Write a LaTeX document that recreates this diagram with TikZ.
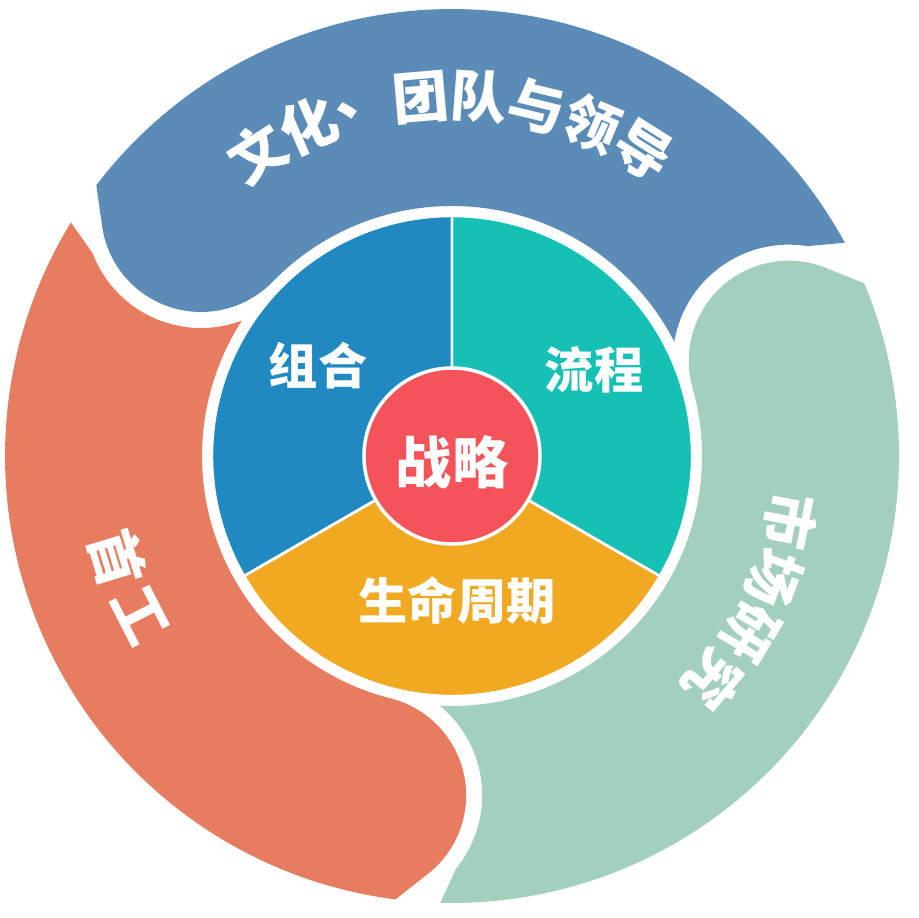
\documentclass[tikz,border=0pt]{standalone}
\usepackage{fontspec}
\usepackage{tikz}
\newfontfamily\cjk{Noto Sans CJK SC}
\definecolor{cazulext}{HTML}{5B8CB8}
\definecolor{cverdeext}{HTML}{A2D0BD}
\definecolor{cnaranjaext}{HTML}{E87C60}
\definecolor{cazul}{HTML}{2089C1}
\definecolor{cturquesa}{HTML}{17C0B5}
\definecolor{camarillo}{HTML}{F2A922}
\definecolor{crojo}{HTML}{F5535A}
\tikzset{
  sector/.style={draw=white, line width=0.7pt},
  nucleo/.style={circle, draw=white, line width=1pt, fill=crojo,
    minimum size=1.76cm, inner sep=0pt},
  etqpie/.style={font=\cjk\bfseries\fontsize{14}{14}\selectfont, text=white, inner sep=0pt},
  etqcentro/.style={font=\cjk\bfseries\fontsize{16}{16}\selectfont, text=white, inner sep=0pt},
  etqarco/.style={font=\cjk\bfseries\fontsize{16}{16}\selectfont, text=white, inner sep=0pt},
}
% outer band: #1 = angle of the round head, #2 = colour
\newcommand{\tira}[2]{%
  \begin{scope}[rotate=#1]
    \fill[#2] (6.93:4.47) -- (4.143,0.766)
      arc[start angle=50, end angle=180, radius=1]
      arc[start angle=0, end angle=-108.6, radius=2.5]
      arc[start angle=34.8, end angle=-55, radius=1.16]
      -- (-107.3:4.47)
      arc[start angle=-107.3, end angle=6.93, radius=4.47] -- cycle;
  \end{scope}}

\begin{document}
\begin{tikzpicture}
  \useasboundingbox (-4.52,-4.62) rectangle (4.66,4.56);
  % outer ring
  \tira{135.8}{cazulext}
  \tira{15.8}{cverdeext}
  \tira{255.8}{cnaranjaext}
  % inner pie
  \fill[cazul, sector] (0,0) -- (90:2.4) arc[start angle=90, end angle=210, radius=2.4] -- cycle;
  \fill[camarillo, sector] (0,0) -- (210:2.4) arc[start angle=210, end angle=330, radius=2.4] -- cycle;
  \fill[cturquesa, sector] (0,0) -- (330:2.4) arc[start angle=330, end angle=450, radius=2.4] -- cycle;
  \draw[sector] (0,0) -- (90:2.4) (0,0) -- (210:2.4) (0,0) -- (330:2.4);
  \node[nucleo] (nucleo) at (0,0) {};
  \node[etqcentro] (estrategia) at (0,-0.06) {战略};
  \node[etqpie] (cartera) at (-1.34,0.90) {组合};
  \node[etqpie] (proceso) at (1.42,0.86) {流程};
  \node[etqpie] (ciclo) at (0.05,-1.44) {生命周期};
  % texts along the ring
  \foreach \c [count=\i] in {文,化,、,团,队,与,领,导}{
    \pgfmathsetmacro\ang{122.7-(\i-1)*9.26}
    \node[etqarco, rotate=\ang-90] (cultura\i) at (\ang:3.6) {\c};
  }
  \foreach \c [count=\i] in {市,场,研,究}{
    \pgfmathsetmacro\ang{-10.9-(\i-1)*9.87}
    \node[etqarco, rotate=\ang-90] (mercado\i) at (\ang:3.45) {\c};
  }
  \foreach \c [count=\i] in {首,工}{
    \pgfmathsetmacro\ang{196.9+(\i-1)*10.2}
    \node[etqarco, rotate=\ang+90] (lateral\i) at (\ang:3.5) {\c};
  }
\end{tikzpicture}
\end{document}
